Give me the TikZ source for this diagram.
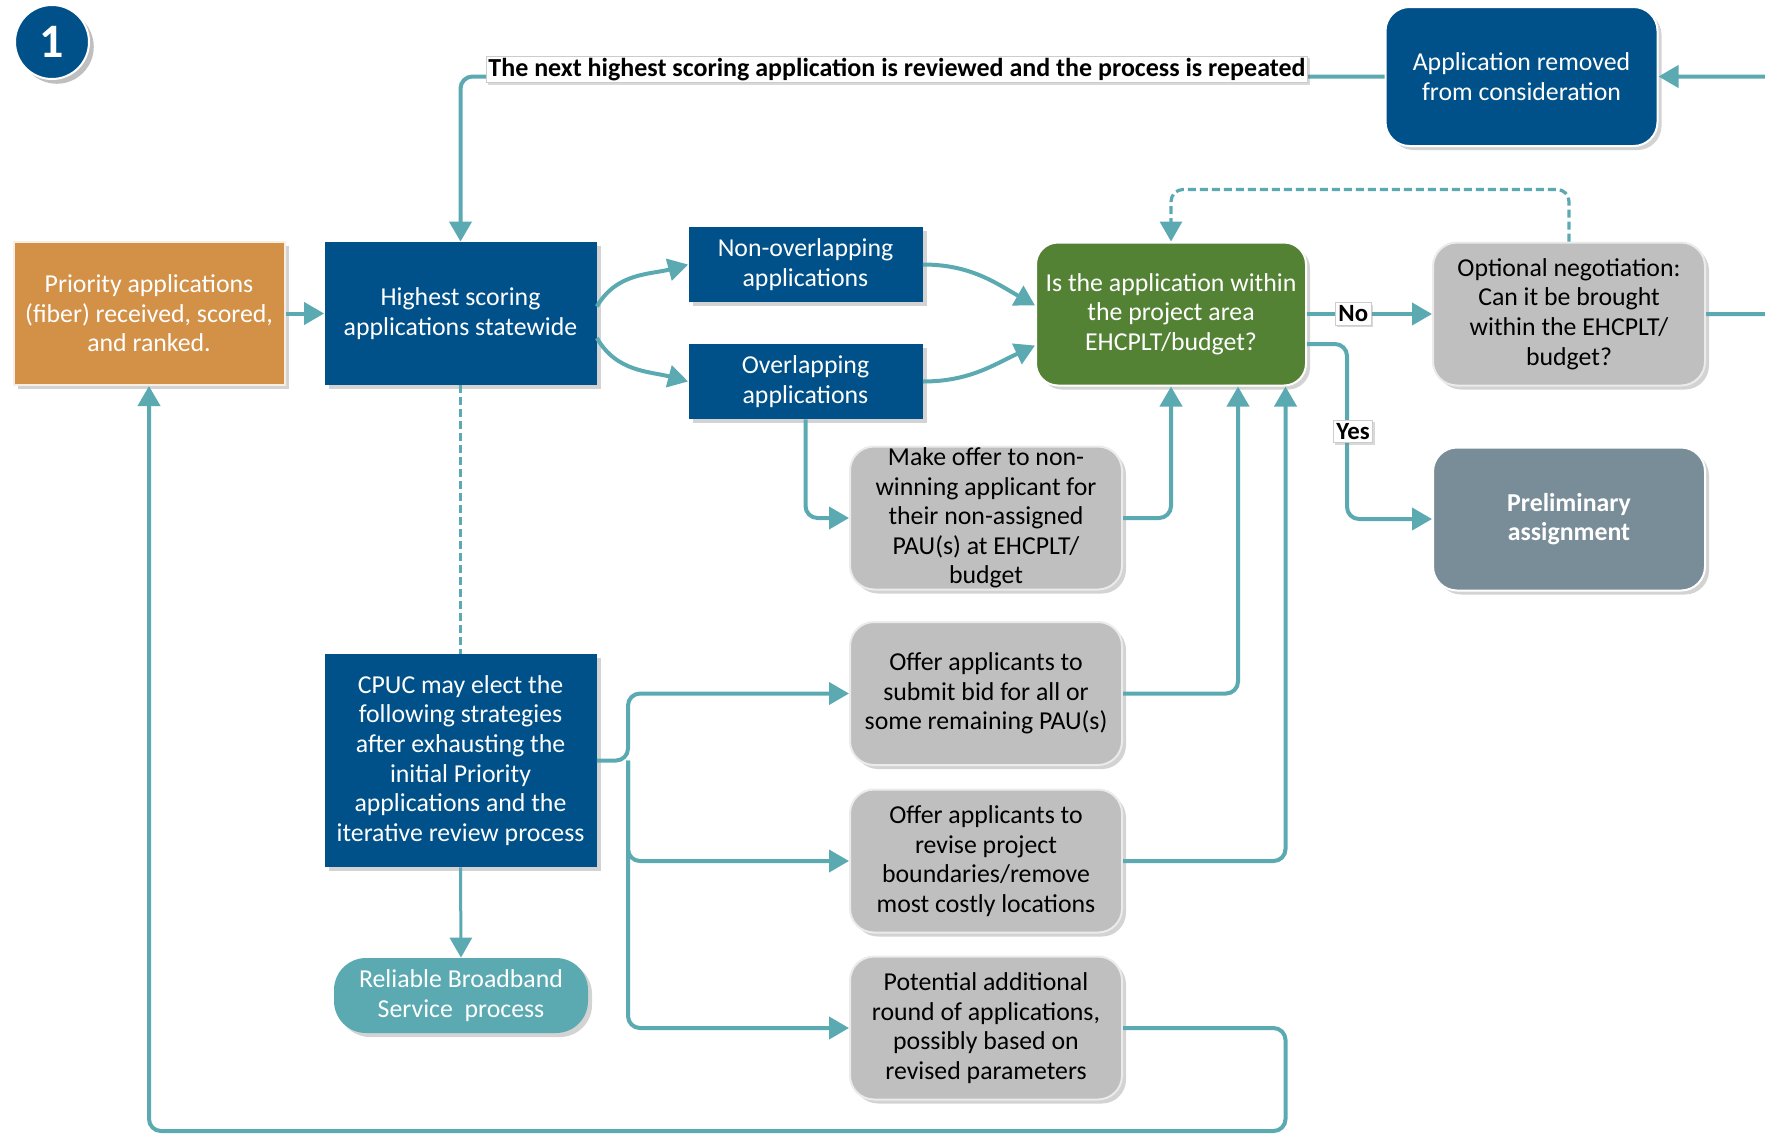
\documentclass[tikz,border=0pt]{standalone}
\usepackage{fontspec}
\setmainfont{Carlito}
\usetikzlibrary{arrows.meta,shadows,calc}

\definecolor{navy}{RGB}{0,81,138}
\definecolor{ochre}{RGB}{211,145,72}
\definecolor{leaf}{RGB}{84,130,53}
\definecolor{boxgray}{RGB}{191,191,191}
\definecolor{slate}{RGB}{121,141,153}
\definecolor{flowteal}{RGB}{91,170,178}

\begin{document}
\begin{tikzpicture}[x=0.5pt,y=0.5pt,
    txt/.style={font=\fontsize{12.9}{14.8}\selectfont,align=center,inner sep=2pt},
    box/.style={txt,rectangle,minimum width=136pt,minimum height=71.5pt,
        drop shadow={opacity=0.35,shadow xshift=2pt,shadow yshift=-2pt}},
    bluebox/.style={box,fill=navy,text=white},
    graybox/.style={box,fill=boxgray,draw=white!92!black,line width=1pt,rounded corners=12pt},
    flow/.style={draw=flowteal,line width=2pt,rounded corners=6pt,
        -{Triangle[length=10pt,width=11pt]}},
    dashflow/.style={flow,line width=1.6pt,dash pattern=on 4pt off 2pt},
    tag/.style={font=\fontsize{12.4}{14}\selectfont\bfseries,fill=white,draw=black!20,
        sharp corners,line width=0.4pt,inner sep=1.5pt,
        drop shadow={opacity=0.3,shadow xshift=1pt,shadow yshift=-1pt}}]

    \useasboundingbox (0,0) rectangle (1765,-1136);

    % Step marker
    \node at (52,-42) [circle,fill=navy,draw=white,line width=1pt,minimum size=37pt,
        text=white,font=\fontsize{24}{24}\selectfont\bfseries,drop shadow] (marker) {1};

    % Top row
    \node at (149,-313.5) [box,fill=ochre,draw=white!85!ochre,line width=1pt,text=white,
        minimum width=135.5pt] (prio) {Priority applications\\(fiber) received, scored,\\and ranked.};
    \node at (460.5,-313.5) [bluebox] (high) {Highest scoring\\applications statewide};
    \node at (805.5,-264.5) [bluebox,minimum width=117pt,minimum height=37.5pt] (nonov)
        {Non-overlapping\\applications};
    \node at (805.5,-381.5) [bluebox,minimum width=117pt,minimum height=37.5pt] (ov)
        {Overlapping\\applications};
    \node at (1171,-314) [box,fill=leaf,draw=white,line width=1pt,text=white,
        rounded corners=11pt,minimum width=135pt] (check) {Is the application within\\the project area\\EHCPLT/budget?};
    \node at (1569,-314) [graybox] (negotiate) {Optional negotiation:\\Can it be brought\\within the EHCPLT/\\budget?};
    \node at (1521.5,-76.5) [bluebox,draw=white,line width=1pt,rounded corners=12pt,
        minimum height=69.5pt] (removed) {Application removed\\from consideration};
    \node at (1569,-519) [box,fill=slate,draw=white,line width=1pt,text=white,
        rounded corners=12pt,font=\fontsize{12.9}{14.8}\selectfont\bfseries] (prelim) {Preliminary\\assignment};

    % Middle column
    \node at (986,-518) [graybox,inner ysep=0pt] (offer) {Make offer to non-\\winning applicant for\\their non-assigned\\PAU(s) at EHCPLT/\\budget};
    \node at (986,-693.5) [graybox] (bid) {Offer applicants to\\submit bid for all or\\some remaining PAU(s)};
    \node at (986,-861) [graybox] (revise) {Offer applicants to\\revise project\\boundaries/remove\\most costly locations};
    \node at (986,-1028) [graybox] (round) {Potential additional\\round of applications,\\possibly based on\\revised parameters};

    % Lower left
    \node at (460.5,-760.5) [bluebox,minimum height=106.5pt] (cpuc) {CPUC may elect the\\following strategies\\after exhausting the\\initial Priority\\applications and the\\iterative review process};
    \node at (461,-995.5) [box,fill=flowteal,text=white,rounded corners=16pt,
        minimum width=127pt,minimum height=37.5pt] (rbs) {Reliable Broadband\\Service\ \ process};

    % Turning points
    \coordinate (yesturn) at (1347,-344);
    \coordinate (split) at (628,-760.5);
    \coordinate (loopcorner) at (1285.5,-1131);

    % Main arrows
    \draw[flow] (prio) to (high);
    \draw[flow] ($(high.east)+(0,7)$) to[out=60,in=195] (nonov.west);
    \draw[flow] ($(high.east)+(0,-24.5)$) to[out=-60,in=165] (ov.west);
    \draw[flow] (nonov.east) to[out=0,in=150] ($(check.west)+(0,8.5)$);
    \draw[flow] (ov.east) to[out=0,in=205] ($(check.west)+(0,-31.5)$);
    \draw[flow] (check) to node[pos=0.37,tag] {No} (negotiate);
    \draw[flow] (check.east |- yesturn) -- (yesturn) |- node[pos=0.25,tag,xshift=3pt] {Yes} (prelim.west);
    \draw[dashflow] (negotiate.north) -- ++(0,52) -| (check.north);

    % Back to the start
    \draw[flow] (negotiate.east) -- ++(120,0) |- (removed.east);
    \draw[flow] (removed.west) -| (high.north);
    \node at (897,-69.5) [tag,font=\fontsize{13}{14}\selectfont\bfseries,inner sep=1pt] (repeatnote)
        {The next highest scoring application is reviewed and the process is repeated};

    % Overlap branch
    \draw[flow] (ov.south) |- (offer.west);
    \draw[flow] (offer.east) -| (check.south);
    \draw[flow] (bid.east) -| ($(check.south)+(67,0)$);
    \draw[flow] (revise.east) -| ($(check.south)+(114.5,0)$);

    % Strategies
    \draw[dashflow,-] (high.south) -- (cpuc.north);
    \draw[flow,line width=1.5pt] (cpuc.south) -- (rbs.north);
    \draw[flow] (cpuc.east) -- (split) |- (bid.west);
    \draw[flow] (split) |- (revise.west);
    \draw[flow] (split) |- (round.west);
    \draw[flow] (round.east) -| (loopcorner) -| (prio.south);
\end{tikzpicture}
\end{document}
